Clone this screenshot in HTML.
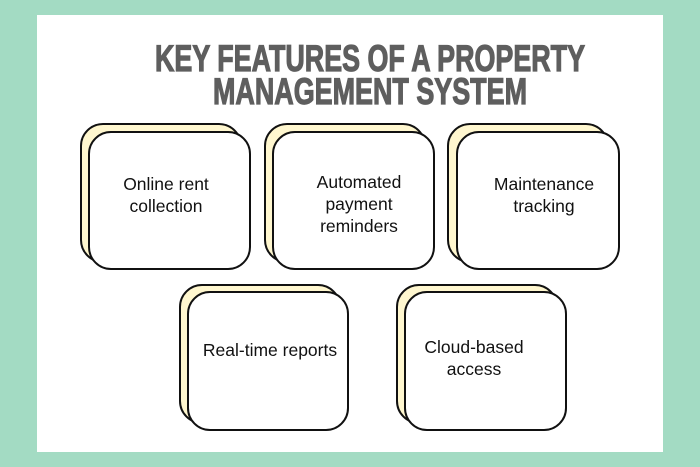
<!DOCTYPE html>
<html><head><meta charset="utf-8"><style>
html,body{margin:0;padding:0;background:#a3dbc3;}
svg{display:block}
</style></head><body>
<svg width="700" height="467" viewBox="0 0 700 467" xmlns="http://www.w3.org/2000/svg">
<rect x="0" y="0" width="700" height="467" fill="#a3dbc3"/>
<rect x="37" y="15" width="626" height="437" fill="#ffffff"/>
<g font-family="Liberation Sans Narrow, Liberation Sans, sans-serif" font-weight="bold" fill="#5e5e5e" stroke="#5e5e5e" stroke-width="1.2" font-size="37">
<text x="155" y="71" textLength="430" lengthAdjust="spacingAndGlyphs">KEY FEATURES OF A PROPERTY</text>
<text x="213" y="104" textLength="314" lengthAdjust="spacingAndGlyphs">MANAGEMENT SYSTEM</text>
</g>
<g stroke="#111" stroke-width="2">
<rect x="81" y="124" width="160" height="138" rx="22" fill="#fff7cf"/>
<rect x="89" y="132" width="161" height="137" rx="22" fill="#fff"/>
<rect x="265" y="124" width="160" height="138" rx="22" fill="#fff7cf"/>
<rect x="273" y="132" width="161" height="137" rx="22" fill="#fff"/>
<rect x="448" y="124" width="160" height="138" rx="22" fill="#fff7cf"/>
<rect x="457" y="132" width="162" height="137" rx="22" fill="#fff"/>
<rect x="180" y="285" width="160" height="138" rx="22" fill="#fff7cf"/>
<rect x="188" y="292" width="160" height="138" rx="22" fill="#fff"/>
<rect x="397" y="285" width="160" height="138" rx="22" fill="#fff7cf"/>
<rect x="405" y="292" width="161" height="138" rx="22" fill="#fff"/>
</g>
<g font-family="Liberation Sans, sans-serif" font-size="17.5" fill="#111" text-anchor="middle">
<text x="166" y="190">Online rent</text>
<text x="166" y="212">collection</text>
<text x="359" y="188">Automated</text>
<text x="359" y="210">payment</text>
<text x="359" y="232">reminders</text>
<text x="544" y="190">Maintenance</text>
<text x="544" y="212">tracking</text>
<text x="270" y="356">Real-time reports</text>
<text x="474" y="353">Cloud-based</text>
<text x="474" y="375">access</text>
</g>
</svg>
</body></html>
